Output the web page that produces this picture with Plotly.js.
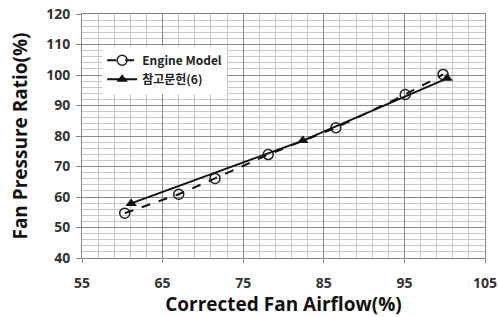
<!DOCTYPE html>
<html>
<head>
<meta charset="utf-8">
<script src="https://cdn.plot.ly/plotly-3.0.1.min.js"></script>
<style>html,body{margin:0;padding:0;background:#fff;}#chart{width:499px;height:317px;}</style>
</head>
<body>
<div id="chart"></div>
<script>
const engineX = [60.3, 67.0, 71.5, 78.1, 86.5, 95.1, 99.8];
const engineY = [54.7, 60.9, 66.1, 73.9, 82.7, 93.6, 100.2];
const refX = [61.1, 82.4, 100.3];
const refY = [57.9, 78.5, 98.9];
const seriesNames = ["Engine Model", "참고문헌(6)"];
const xTicks = [55, 65, 75, 85, 95, 105];
const yTicks = [40, 50, 60, 70, 80, 90, 100, 110, 120];

const traces = [
  {x: engineX, y: engineY, name: seriesNames[0], type: 'scatter', mode: 'lines+markers',
   line: {color: '#111', width: 2, dash: 'dash'},
   marker: {symbol: 'circle-open', size: 10, color: '#222', line: {width: 1.5}}},
  {x: refX, y: refY, name: seriesNames[1], type: 'scatter', mode: 'lines+markers',
   line: {color: '#111', width: 2},
   marker: {symbol: 'triangle-up', size: 10, color: '#111'}}
];

const layout = {
  width: 499, height: 317,
  margin: {l: 82, r: 14, t: 14, b: 59},
  paper_bgcolor: '#fff', plot_bgcolor: '#fff',
  showlegend: true,
  legend: {x: 0.05, y: 0.87, xanchor: 'left', yanchor: 'top', bgcolor: '#fff',
    font: {family: 'Noto Sans CJK KR, Noto Sans, sans-serif', size: 12, color: '#222', weight: 'bold'},
    tracegroupgap: 4, itemwidth: 30, borderwidth: 0},
  xaxis: {
    range: [55, 105], tickvals: xTicks, ticktext: xTicks.map(String),
    showgrid: true, gridcolor: '#8a8a8a', gridwidth: 1,
    minor: {dtick: 2, tick0: 55, showgrid: true, gridcolor: '#c8c8c8', gridwidth: 1},
    showline: true, linecolor: '#888', linewidth: 1, mirror: true,
    ticks: 'outside', ticklen: 4, tickcolor: '#888',
    ticklabelstandoff: 8,
    tickfont: {family: 'Open Sans, sans-serif', size: 14, color: '#333', weight: 'bold'},
    zeroline: false,
    title: {text: 'Corrected Fan Airflow(%)', standoff: 5,
      font: {family: 'Open Sans, sans-serif', size: 19, color: '#111', weight: 'bold'}}
  },
  yaxis: {
    range: [40, 120], tickvals: yTicks, ticktext: yTicks.map(String),
    showgrid: true, gridcolor: '#8a8a8a', gridwidth: 1,
    minor: {dtick: 2, tick0: 40, showgrid: true, gridcolor: '#c8c8c8', gridwidth: 1},
    showline: true, linecolor: '#888', linewidth: 1, mirror: true,
    ticks: 'outside', ticklen: 5, tickcolor: '#888',
    ticklabelstandoff: 3,
    tickfont: {family: 'Open Sans, sans-serif', size: 14, color: '#333', weight: 'bold'},
    zeroline: false,
    title: {text: 'Fan Pressure Ratio(%)', standoff: 13,
      font: {family: 'Open Sans, sans-serif', size: 19, color: '#111', weight: 'bold'}}
  }
};
Plotly.newPlot('chart', traces, layout, {staticPlot: true, displayModeBar: false});
</script>
</body>
</html>
